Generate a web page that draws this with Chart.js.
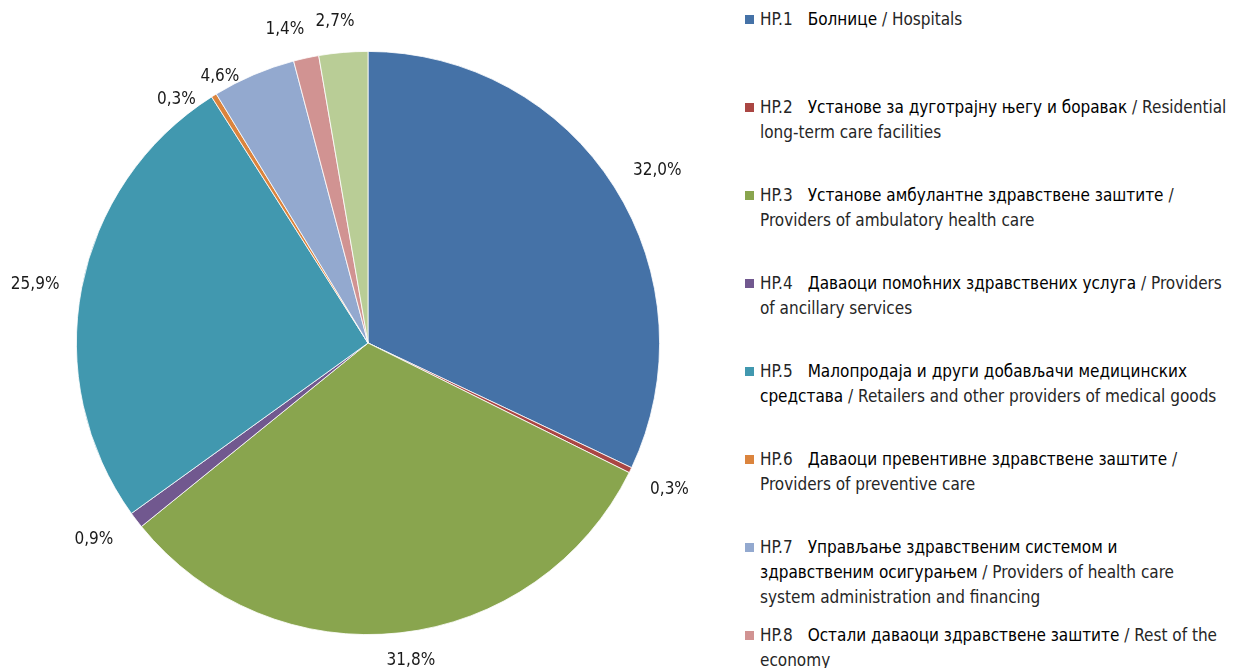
<!DOCTYPE html>
<html>
<head>
<meta charset="utf-8">
<script src="https://cdn.jsdelivr.net/npm/chart.js@4/dist/chart.umd.min.js"></script>
<style>
  html, body { margin: 0; padding: 0; background: #fff; }
  #wrap { position: relative; width: 1234px; height: 668px; overflow: hidden; }
  #pie { position: absolute; left: 0; top: 0; width: 736px; height: 668px; }
  #legend { position: absolute; left: 745px; top: 0; width: 489px; height: 668px;
            font-family: "Liberation Sans Narrow", "Arial Narrow", "DejaVu Sans Condensed", sans-serif;
            font-size: 17px; line-height: 25px; color: #262626; }
  .item { position: absolute; left: 0; white-space: nowrap; }
  .box { position: absolute; left: 0; top: 8px; width: 9px; height: 9px; }
  .txt { position: absolute; left: 15px; top: 0; }
  .code { margin-right: 15px; }
  .sr { color: #000; }
</style>
</head>
<body>
<div id="wrap">
  <div id="pie"><canvas id="chart"></canvas></div>
  <div id="legend"></div>
</div>
<script>
const codes = ['HP.1', 'HP.2', 'HP.3', 'HP.4', 'HP.5', 'HP.6', 'HP.7', 'HP.8', 'HP.9'];
const namesSr = [
    'Болнице',
    'Установе за дуготрајну његу и боравак',
    'Установе амбулантне здравствене заштите',
    'Даваоци помоћних здравствених услуга',
    'Малопродаја и други добављачи медицинских\nсредстава',
    'Даваоци превентивне здравствене заштите',
    'Управљање здравственим системом и\nздравственим осигурањем',
    'Остали даваоци здравствене заштите',
    'Остатак света'
];
const namesEn = [
    'Hospitals',
    'Residential\nlong-term care facilities',
    '\nProviders of ambulatory health care',
    'Providers\nof ancillary services',
    'Retailers and other providers of medical goods',
    '\nProviders of preventive care',
    'Providers of health care\nsystem administration and financing',
    'Rest of the\neconomy',
    'Rest of the world'
];
const shares = [32.0, 0.3, 31.8, 0.9, 25.9, 0.3, 4.6, 1.4, 2.7];

const colors = ['#4572A7', '#AA4643', '#89A54E', '#71588F', '#4198AF',
                '#DB843D', '#93A9CF', '#D19392', '#B9CD96'];

// label placement: distance from centre (px) and angle nudge (deg)
const labelDist = [337, 335, 320, 337, 338, 310, 305, 324, 323];
const labelNudge = [1.5, 0, -1.4, 1.8, -0.9, -6.3, -6, -2.6, -1];

const fmt = v => v.toFixed(1).replace('.', ',') + '%';

const labelPlugin = {
    id: 'outLabels',
    afterDatasetsDraw(chart) {
        const ctx = chart.ctx;
        const meta = chart.getDatasetMeta(0);
        ctx.save();
        ctx.font = '17px "Liberation Sans Narrow", "Arial Narrow", "DejaVu Sans Condensed", sans-serif';
        ctx.fillStyle = '#1a1a1a';
        ctx.textAlign = 'center';
        ctx.textBaseline = 'middle';
        meta.data.forEach((arc, i) => {
            const mid = (arc.startAngle + arc.endAngle) / 2 + labelNudge[i] * Math.PI / 180;
            const x = arc.x + Math.cos(mid) * labelDist[i];
            const y = arc.y + Math.sin(mid) * labelDist[i];
            ctx.fillText(fmt(shares[i]), x, y);
        });
        ctx.restore();
    }
};

new Chart(document.getElementById('chart').getContext('2d'), {
    type: 'pie',
    data: {
        labels: codes,
        datasets: [{
            data: shares,
            backgroundColor: colors,
            borderColor: '#ffffff',
            borderWidth: 0.8
        }]
    },
    options: {
        responsive: true,
        maintainAspectRatio: false,
        animation: false,
        layout: { padding: { left: 76, right: 76, top: 51, bottom: 33 } },
        plugins: {
            legend: { display: false },
            tooltip: { enabled: false }
        }
    },
    plugins: [labelPlugin]
});

// legend, built from the same arrays
const esc = s => s.replace(/&/g, '&amp;').replace(/</g, '&lt;');
const legend = document.getElementById('legend');
codes.forEach((code, i) => {
    const item = document.createElement('div');
    item.className = 'item';
    item.style.top = (7 + i * 88) + 'px';
    const sr = esc(namesSr[i]).replace(/\n/g, '<br>');
    const en = esc(namesEn[i]).replace(/\n/g, '<br>');
    item.innerHTML = '<div class="box" style="background:' + colors[i] + '"></div>' +
        '<div class="txt"><span class="code">' + code + '</span><span class="sr">' + sr +
        '</span> / ' + en + '</div>';
    legend.appendChild(item);
});
</script>
</body>
</html>
